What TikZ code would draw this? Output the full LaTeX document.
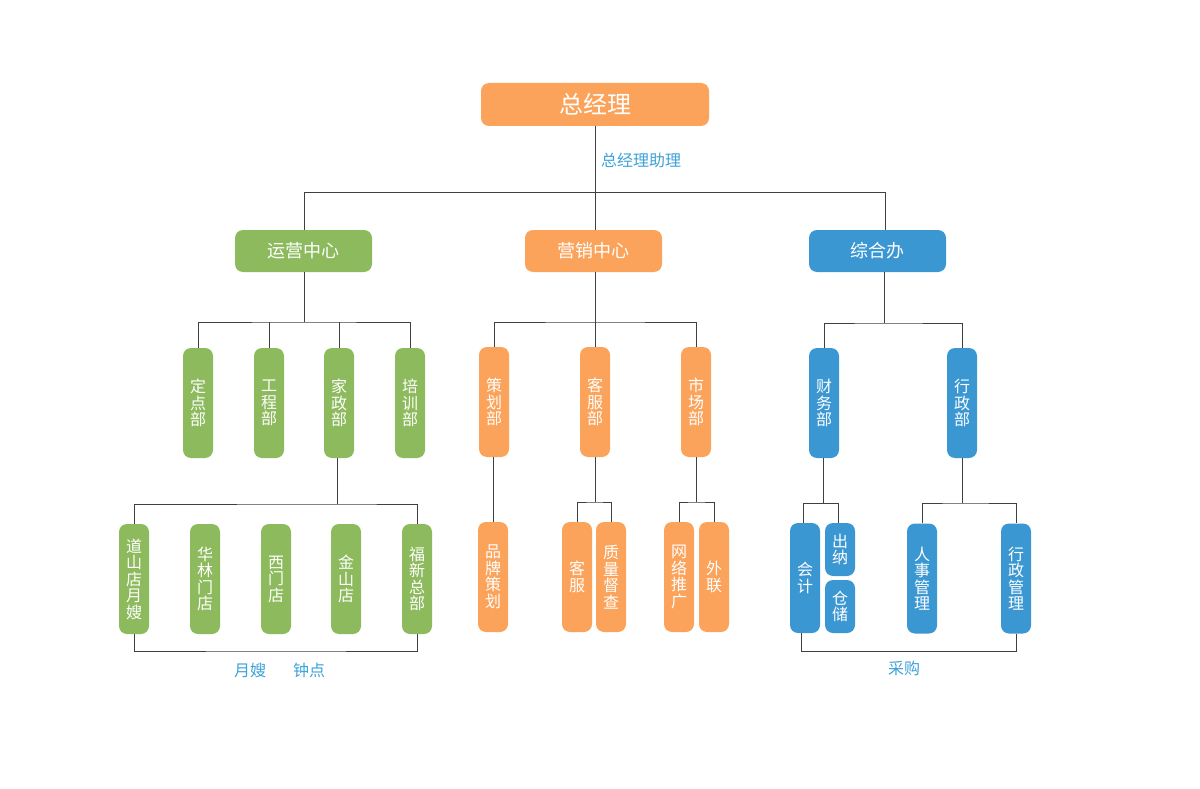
\documentclass[tikz,border=0pt]{standalone}
\usepackage{fontspec}
\newfontfamily\cjk{Noto Sans CJK SC}
\definecolor{org}{HTML}{FBA35B}
\definecolor{grn}{HTML}{8CBA5C}
\definecolor{blu}{HTML}{3A97D2}
\definecolor{lbl}{HTML}{3DA2D8}
\definecolor{ln}{HTML}{404040}
\tikzset{
  box/.style={draw=none,rounded corners=8pt,inner sep=0pt,text=white,align=center},
  top/.style={box,minimum width=228pt,minimum height=43pt,font=\cjk\fontsize{24}{26}\selectfont},
  mid/.style={box,minimum width=137pt,minimum height=42pt,font=\cjk\fontsize{18}{20}\selectfont},
  vbox/.style={box,minimum width=30pt,minimum height=110pt,font=\cjk\fontsize{16}{16.5}\selectfont},
  sbox/.style={box,minimum width=30pt,minimum height=53pt,font=\cjk\fontsize{16}{16.5}\selectfont},
  conn/.style={draw=ln,line width=0.9pt},
  lab/.style={text=lbl,font=\cjk\fontsize{16}{18}\selectfont,inner sep=0pt}
}
\begin{document}
\begin{tikzpicture}[x=1pt,y=-1pt]
\useasboundingbox (0,0) rectangle (1200,789);
% top
\node[top,fill=org] (gm) at (595,104.5) {总经理};
\node[lab,anchor=west] (asst) at (601,160) {总经理助理};
% level 2
\node[mid,fill=grn] (yy) at (303.5,251) {运营中心};
\node[mid,fill=org] (yx) at (593.5,251) {营销中心};
\node[mid,fill=blu] (zh) at (877.5,251) {综合办};
% level 3 green
\node[vbox,fill=grn] (dd) at (198,403) {定\\点\\部};
\node[vbox,fill=grn] (gc) at (269,403) {工\\程\\部};
\node[vbox,fill=grn] (jz) at (339,403) {家\\政\\部};
\node[vbox,fill=grn] (px) at (410,403) {培\\训\\部};
% level 3 orange
\node[vbox,fill=org] (ch) at (494,402) {策\\划\\部};
\node[vbox,fill=org] (kf) at (595,402) {客\\服\\部};
\node[vbox,fill=org] (sc) at (696,402) {市\\场\\部};
% level 3 blue
\node[vbox,fill=blu] (cw) at (824,403) {财\\务\\部};
\node[vbox,fill=blu] (xz) at (962,403) {行\\政\\部};
% level 4 green
\node[vbox,fill=grn] (ds) at (134,579) {道\\山\\店\\月\\嫂};
\node[vbox,fill=grn] (hl) at (205,579) {华\\林\\门\\店};
\node[vbox,fill=grn] (xm) at (276,579) {西\\门\\店};
\node[vbox,fill=grn] (js) at (346,579) {金\\山\\店};
\node[vbox,fill=grn] (fx) at (417,579) {福\\新\\总\\部};
% level 4 orange
\node[vbox,fill=org] (pp) at (493,577) {品\\牌\\策\\划};
\node[vbox,fill=org] (kf2) at (577,577) {客\\服};
\node[vbox,fill=org] (zl) at (611,577) {质\\量\\督\\查};
\node[vbox,fill=org] (wl) at (679,577) {网\\络\\推\\广};
\node[vbox,fill=org] (wai) at (714,577) {外\\联};
% level 4 blue
\node[vbox,fill=blu] (kj) at (805,578) {会\\计};
\node[sbox,fill=blu] (cn) at (840,549.5) {出\\纳};
\node[sbox,fill=blu] (cc) at (840,606.5) {仓\\储};
\node[vbox,fill=blu] (rs) at (922,578.5) {人\\事\\管\\理};
\node[vbox,fill=blu] (xg) at (1016,578.5) {行\\政\\管\\理};
% labels
\node[lab] (ys) at (250,670) {月嫂};
\node[lab] (zd) at (309,670) {钟点};
\node[lab] (cg) at (904,668) {采购};
% connectors
\coordinate (b1) at (595,192);
\coordinate (b1l) at (304,192);
\coordinate (b1r) at (885,192);
\draw[conn] (gm.south) -- (b1);
\draw[conn] (b1l |- yy.north) -- (b1l) -- (b1r) -- (b1r |- zh.north);
\draw[conn] (b1) -- (b1 |- yx.north);
\coordinate (b2) at (304,322);
\draw[conn] (b2 |- yy.south) -- (b2);
\draw[conn] (dd.north) |- (b2) -| (px.north);
\draw[conn] (gc.north) -- (gc.north |- b2);
\draw[conn] (jz.north) -- (jz.north |- b2);
\coordinate (b3) at (595,322);
\draw[conn] (b3 |- yx.south) -- (b3);
\draw[conn] (ch.north) |- (b3) -| (sc.north);
\draw[conn] (kf.north) -- (b3);
\coordinate (b4) at (884,323);
\draw[conn] (b4 |- zh.south) -- (b4);
\draw[conn] (cw.north) |- (b4) -| (xz.north);
\coordinate (b5) at (337,504);
\draw[conn] (b5 |- jz.south) -- (b5);
\draw[conn] (ds.north) |- (b5) -| (fx.north);
\coordinate (b6) at (276,651);
\draw[conn] (ds.south) |- (b6) -| (fx.south);
\draw[conn] (pp.north |- ch.south) -- (pp.north);
\coordinate (b7) at (595,502);
\draw[conn] (kf.south) -- (b7);
\draw[conn] (kf2.north) |- (b7) -| (zl.north);
\coordinate (b8) at (696,502);
\draw[conn] (sc.south) -- (b8);
\draw[conn] (wl.north) |- (b8) -| (wai.north);
\coordinate (b9) at (823,503);
\coordinate (b9l) at (803,503);
\coordinate (b9r) at (838,503);
\draw[conn] (b9 |- cw.south) -- (b9);
\draw[conn] (b9l |- kj.north) -- (b9l) -- (b9r) -- (b9r |- cn.north);
\coordinate (b10) at (962,503);
\draw[conn] (xz.south) -- (b10);
\draw[conn] (rs.north) |- (b10) -| (xg.north);
\coordinate (b11l) at (801,651);
\coordinate (b11r) at (1016,651);
\draw[conn] (b11l |- kj.south) -- (b11l) -- (b11r) -- (xg.south);
\end{tikzpicture}
\end{document}
